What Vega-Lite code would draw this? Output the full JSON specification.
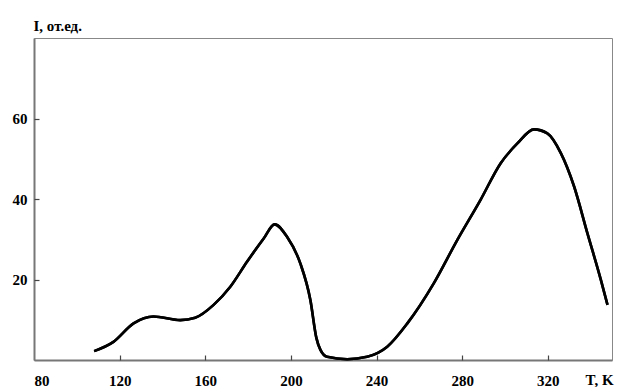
{
  "$schema": "https://vega.github.io/schema/vega-lite/v6.json",
  "width": 578,
  "height": 322,
  "autosize": {"type": "none"},
  "padding": {"left": 34, "top": 38, "right": 11, "bottom": 27},
  "background": "white",
  "config": {
    "view": {"stroke": "#888888", "strokeWidth": 1},
    "font": "Liberation Serif"
  },
  "data": {
    "values": [
      {"T": 108.1, "I": 2.2},
      {"T": 117.1, "I": 4.5},
      {"T": 126.5, "I": 9.1},
      {"T": 135.8, "I": 10.8},
      {"T": 148.3, "I": 9.9},
      {"T": 155.3, "I": 10.5},
      {"T": 163.9, "I": 13.7},
      {"T": 171.7, "I": 18.2},
      {"T": 179.5, "I": 24.4},
      {"T": 187.3, "I": 30.2},
      {"T": 192.4, "I": 33.7},
      {"T": 198.2, "I": 30.6},
      {"T": 204.4, "I": 24.0},
      {"T": 209.1, "I": 14.9},
      {"T": 211.9, "I": 5.5},
      {"T": 213.8, "I": 2.5},
      {"T": 216.9, "I": 0.8},
      {"T": 226.3, "I": 0.2},
      {"T": 235.6, "I": 0.8},
      {"T": 245.0, "I": 3.3},
      {"T": 254.4, "I": 9.1},
      {"T": 266.8, "I": 19.1},
      {"T": 277.7, "I": 29.8},
      {"T": 288.6, "I": 39.8},
      {"T": 298.0, "I": 48.9},
      {"T": 305.8, "I": 53.8},
      {"T": 313.6, "I": 57.3},
      {"T": 319.8, "I": 56.3},
      {"T": 326.1, "I": 51.4},
      {"T": 332.3, "I": 43.1},
      {"T": 338.5, "I": 31.5},
      {"T": 344.8, "I": 19.9},
      {"T": 347.9, "I": 13.7}
    ]
  },
  "resolve": {"axis": {"x": "independent", "y": "independent"}},
  "layer": [
    {
      "mark": {"type": "line", "color": "black", "strokeWidth": 2.6, "interpolate": "monotone"},
      "encoding": {
        "x": {
          "field": "T",
          "type": "quantitative",
          "scale": {"domain": [80, 350], "nice": false, "zero": false},
          "axis": {
            "values": [80, 120, 160, 200, 240, 280, 320],
            "grid": false,
            "domainColor": "#777777",
            "domainWidth": 2,
            "ticks": false,
            "labelPadding": 13,
            "labelFont": "Liberation Serif",
            "labelFontWeight": "bold",
            "labelFontSize": 15,
            "labelColor": "black",
            "title": "T, K",
            "titleFont": "Liberation Serif",
            "titleFontWeight": "bold",
            "titleFontSize": 15,
            "titleColor": "black",
            "titleAnchor": null,
            "titleAlign": "left",
            "titleBaseline": "alphabetic",
            "titleX": 551,
            "titleY": 24
          }
        },
        "y": {
          "field": "I",
          "type": "quantitative",
          "scale": {"domain": [0, 80], "nice": false},
          "axis": {
            "values": [20, 40, 60],
            "grid": false,
            "domainColor": "#777777",
            "domainWidth": 2,
            "ticks": false,
            "labelPadding": 7,
            "labelFont": "Liberation Serif",
            "labelFontWeight": "bold",
            "labelFontSize": 15,
            "labelColor": "black",
            "title": "I, от.ед.",
            "titleFont": "Liberation Serif",
            "titleFontWeight": "bold",
            "titleFontSize": 15,
            "titleColor": "black",
            "titleAngle": 0,
            "titleAlign": "left",
            "titleBaseline": "alphabetic",
            "titleX": -1,
            "titleY": -8
          }
        }
      }
    },
    {
      "mark": {"type": "line", "color": "black", "strokeWidth": 2.6, "interpolate": "monotone"},
      "encoding": {
        "x": {
          "field": "T",
          "type": "quantitative",
          "axis": {
            "orient": "top",
            "offset": -322,
            "values": [120, 160, 200, 240, 280, 320],
            "grid": false,
            "domain": false,
            "labels": false,
            "title": null,
            "ticks": true,
            "tickColor": "#444444",
            "tickSize": 5,
            "tickWidth": 1.2
          }
        },
        "y": {
          "field": "I",
          "type": "quantitative",
          "axis": {
            "orient": "right",
            "offset": -578,
            "values": [20, 40, 60],
            "grid": false,
            "domain": false,
            "labels": false,
            "title": null,
            "ticks": true,
            "tickColor": "#444444",
            "tickSize": 5,
            "tickWidth": 1.2
          }
        }
      }
    }
  ]
}
